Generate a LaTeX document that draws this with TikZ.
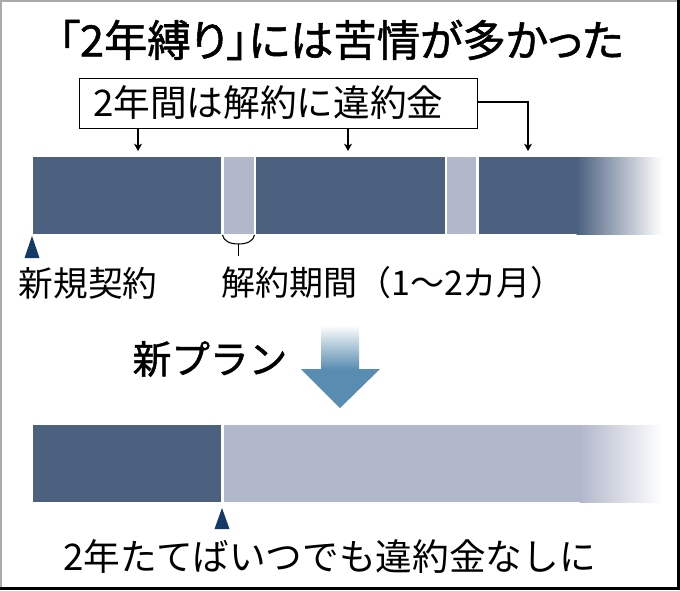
\documentclass[tikz,border=0pt]{standalone}
\usepackage{fontspec}
\newfontfamily\jp{Noto Sans CJK JP}
\newfontfamily\jpmed[FakeBold=1.2]{Noto Sans CJK JP}
\newfontfamily\jpmedp[FakeBold=1.2,RawFeature=+palt]{Noto Sans CJK JP}
\usetikzlibrary{arrows.meta}
\definecolor{barDark}{RGB}{76,96,128}
\definecolor{barLight}{RGB}{178,184,204}
\definecolor{markBlue}{RGB}{22,58,104}
\definecolor{arrowBlue}{RGB}{88,140,176}
\definecolor{frameGray}{RGB}{170,170,170}
\tikzset{
  lbl/.style={inner sep=0pt, font=\jp\fontsize{26}{30}\selectfont},
  ttl/.style={inner sep=0pt, font=\jpmedp\fontsize{32.5}{38}\selectfont},
  plantxt/.style={inner sep=0pt, font=\jpmed\fontsize{29}{34}\selectfont},
  conn/.style={line width=0.8pt, -{Stealth[length=5.5pt,width=6pt,inset=1.5pt]}},
  markerTri/.style={fill=markBlue},
}
\begin{document}
\begin{tikzpicture}[x=0.75pt,y=-0.75pt]
\useasboundingbox (0,0) rectangle (680,590);
\fill[white] (0,0) rectangle (680,590);
% frame
\draw[frameGray, line width=1pt] (1,588) -- (1,1) -- (678,1);
\draw[black, line width=1.6pt] (678.5,0) -- (678.5,588.5) -- (0,588.5);

% title
\node[ttl] (title) at (341,40) {「2年縛り」には苦情が多かった};

% box
\node[draw, line width=0.8pt, anchor=north west, inner sep=0pt,
      minimum width=298.5pt, minimum height=37.5pt] (box) at (79,78) {};
\node[lbl, font=\jp\fontsize{27.5}{32}\selectfont, anchor=west] (boxtext) at (93,103) {2年間は解約に違約金};

% top bar
\fill[barDark] (33,157) rectangle (221,234);
\fill[barLight] (223.5,157) rectangle (253.5,234);
\fill[barDark] (256,157) rectangle (444.5,234);
\fill[barLight] (447,157) rectangle (476,234);
\fill[barDark] (478.5,157) rectangle (577,234);
\shade[left color=barDark, right color=white] (576.5,157) rectangle (662,234);

% arrow targets
\coordinate (t1) at (138,151);
\coordinate (t2) at (348,151);
\coordinate (t3) at (528,151);
\coordinate (bend) at (528,102);
\draw[conn] (box.south -| t1) -- (t1);
\draw[conn] (box.south -| t2) -- (t2);
\draw[conn] (box.east |- bend) -- (bend) -- (t3);

% marker new contract
\fill[markerTri] (32,236) -- (39.5,258) -- (24.5,258) -- cycle;
\node[lbl] (newc) at (88,283) {新規契約};

% bracket
\coordinate (bl) at (222.5,235);
\coordinate (br) at (254.5,235);
\coordinate (bm) at (238.5,244);
\coordinate (bt) at (238.5,256);
\draw[line width=0.8pt] (bl) .. controls (223.5,241) and (230,244) .. (bm)
   .. controls (247,244) and (253.5,241) .. (br);
\draw[line width=0.8pt] (bm) -- (bt);
\node[lbl, font=\jp\fontsize{25.5}{30}\selectfont] (period) at (393,283) {解約期間（1～2カ月）};

% new plan
\node[plantxt] (plan) at (210,359) {新プラン};
\shade[top color=white, bottom color=arrowBlue] (321,325) rectangle (359,369.5);
\fill[arrowBlue] (301,369) -- (380,369) -- (340,408) -- cycle;
\coordinate (arrowTip) at (340,408);

% bottom bar
\fill[barDark] (33,425) rectangle (221,502);
\fill[barLight] (223.5,425) rectangle (580,502);
\shade[left color=barLight, right color=white] (579.5,425) rectangle (662,502);

\fill[markerTri] (222,508) -- (229.5,529) -- (214.5,529) -- cycle;
\node[lbl, font=\jp\fontsize{27.5}{32}\selectfont] (free) at (329.5,557) {2年たてばいつでも違約金なしに};
\end{tikzpicture}
\end{document}
